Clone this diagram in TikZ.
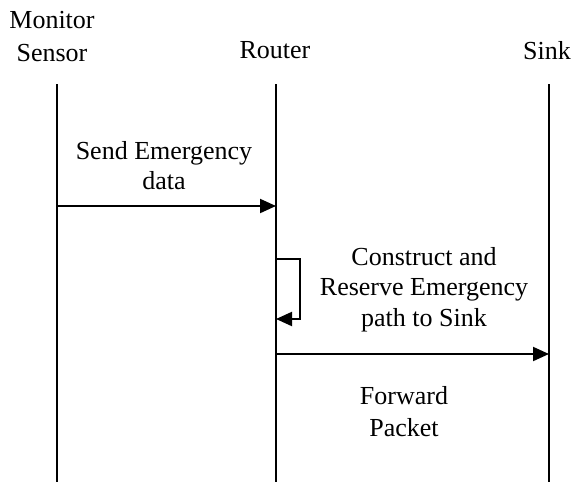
\documentclass[tikz,border=0pt]{standalone}
\usepackage{fontspec}
\setmainfont{Liberation Serif}
\usetikzlibrary{arrows.meta}
\begin{document}
\begin{tikzpicture}[x=1pt,y=-1pt,
  lbl/.style={font=\fontsize{26}{31}\selectfont, align=center, inner sep=0pt, anchor=north},
  life/.style={line width=2pt},
  msg/.style={line width=2pt, -{Triangle[length=16pt,width=14pt]}}]
\useasboundingbox (0,0) rectangle (587,482);
% lifeline end points
\coordinate (mt) at (57,84);  \coordinate (mb) at (57,482);
\coordinate (rt) at (276,84); \coordinate (rb) at (276,482);
\coordinate (st) at (549,84); \coordinate (sb) at (549,482);
\draw[life] (mt) -- (mb);
\draw[life] (rt) -- (rb);
\draw[life] (st) -- (sb);
% headers
\node[lbl, font=\fontsize{26}{33}\selectfont] (monitor) at (52,11) {Monitor\\Sensor};
\node[lbl] (router) at (275,41) {Router};
\node[lbl] (sink) at (547,41) {Sink};
% message 1
\coordinate (m1s) at (57,206);
\coordinate (m1e) at (276,206);
\draw[msg] (m1s) -- (m1e);
\node[lbl, font=\fontsize{26}{30}\selectfont] (send) at (164,141) {Send Emergency\\data};
% self loop
\coordinate (l1) at (276,259);
\coordinate (l2) at (276,319);
\draw[msg] (l1) -- (300,259) -- (300,319) -- (l2);
\node[lbl, font=\fontsize{26}{30.5}\selectfont] (construct) at (424,247) {Construct and\\Reserve Emergency\\path to Sink};
% message 2
\coordinate (m2s) at (276,354);
\coordinate (m2e) at (549,354);
\draw[msg] (m2s) -- (m2e);
\node[lbl, font=\fontsize{26}{32}\selectfont] (forward) at (404,386) {Forward\\Packet};
\end{tikzpicture}
\end{document}
